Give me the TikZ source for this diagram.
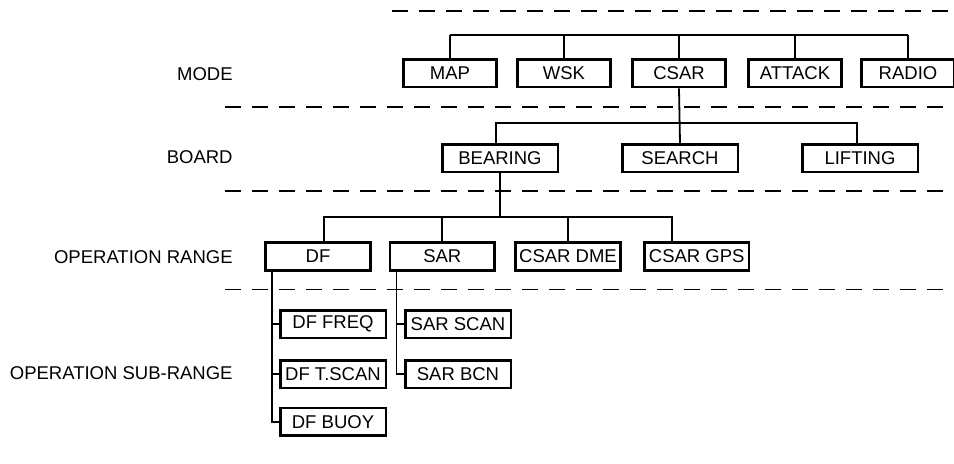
\documentclass[tikz,border=0pt]{standalone}
\usepackage{fontspec}
\setmainfont{Liberation Sans}
\usetikzlibrary{positioning,calc}

\begin{document}
\begin{tikzpicture}[x=0.5pt, y=-0.5pt,
    blk/.style={draw, line width=1.3pt, minimum height=13.8pt, inner sep=0pt,
                font=\fontsize{9.25}{10}\selectfont},
    modebox/.style={blk, minimum width=46.3pt},
    brdbox/.style={blk, minimum width=57.8pt},
    rngbox/.style={blk, minimum width=52.3pt},
    subbox/.style={blk, minimum width=52.8pt},
    lvl/.style={anchor=east, inner sep=0pt, font=\fontsize{9.25}{10}\selectfont},
    conn/.style={line width=0.9pt},
    sep/.style={line width=0.7pt, dash pattern=on 8pt off 5.5pt}
  ]
  \useasboundingbox (0,0) rectangle (954,463);

  % level separators
  \draw[sep] (392,11) -- (954,11);
  \foreach \y in {107,191,289.5}
    \draw[sep] (225,\y) -- (954,\y);

  % level names
  \node[lvl] (lmode) at (233,74)    {MODE};
  \node[lvl] (lbrd)  at (233,157.5) {BOARD};
  \node[lvl] (lrng)  at (233,257.5) {OPERATION RANGE};
  \node[lvl] (lsub)  at (233,373)   {OPERATION SUB-RANGE};

  % mode
  \node[modebox] (map)    at (450,73.3) {MAP};
  \node[modebox] (wsk)    at (564,73.3) {WSK};
  \node[modebox] (csar)   at (679,73.3) {CSAR};
  \node[modebox] (attack) at (795,73.3) {ATTACK};
  \node[modebox] (radio)  at (908,73.3) {RADIO};

  % board
  \node[brdbox] (bearing) at (500,158) {BEARING};
  \node[brdbox] (search)  at (680,158) {SEARCH};
  \node[brdbox] (lifting) at (860,158) {LIFTING};

  % operation range
  \node[rngbox] (df)  at (318,256.5)   {DF};
  \node[rngbox] (sar) at (442.3,256.5) {SAR};
  \node[rngbox] (dme) at (568,256.5)   {CSAR DME};
  \node[rngbox] (gps) at (696.7,256.5) {CSAR GPS};

  % operation sub-range
  \node[subbox] (dffreq)  at (333,324)   {DF FREQ};
  \node[subbox] (dftscan) at (333,374)   {DF T.SCAN};
  \node[subbox] (dfbuoy)  at (333,421.7) {DF BUOY};
  \node[subbox] (sarscan) at (458,324)   {SAR SCAN};
  \node[subbox] (sarbcn)  at (458,374)   {SAR BCN};

  % mode tree
  \coordinate (modebus) at (679,35);
  \draw[conn] (map.north |- modebus) -- (radio.north |- modebus);
  \foreach \n in {map,wsk,csar,attack,radio}
    \draw[conn] (\n.north) -- (\n.north |- modebus);

  % board tree
  \coordinate (brdbus) at (680,123.3);
  \draw[conn] (csar.south) -- (search.north);
  \draw[conn] ([xshift=-2pt]bearing.north) |- (brdbus) -| ([xshift=-1.5pt]lifting.north);

  % range tree
  \coordinate (rngbus) at (500,217.3);
  \draw[conn] (bearing.south) -- (rngbus);
  \draw[conn] ([xshift=3pt]df.north) |- (rngbus) -| ([xshift=-12.3pt]gps.north);
  \foreach \n in {sar,dme}
    \draw[conn] (\n.north) -- (\n.north |- rngbus);

  % sub-range trees
  \coordinate (dfline) at ([xshift=3.65pt]df.south west);
  \draw[conn] (dfline) |- (dfbuoy.west);
  \foreach \n in {dffreq,dftscan}
    \draw[conn] (\n.west) -- (\n.west -| dfline);
  \coordinate (sarline) at ([xshift=3.85pt]sar.south west);
  \draw[conn] (sarline) |- (sarbcn.west);
  \draw[conn] (sarscan.west) -- (sarscan.west -| sarline);
\end{tikzpicture}
\end{document}
